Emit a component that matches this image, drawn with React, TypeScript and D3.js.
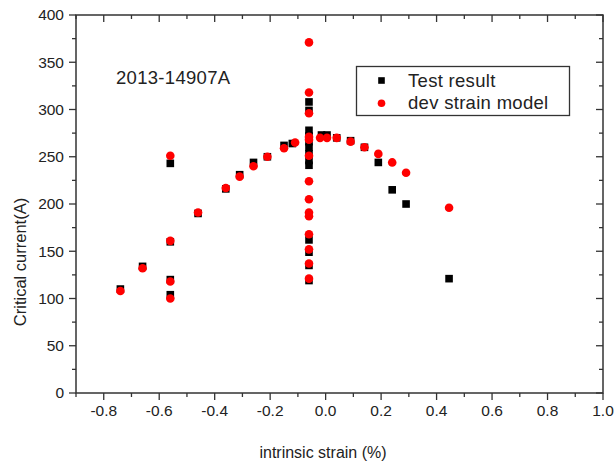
import React from "react";
import * as d3 from "d3";

// Test result (black squares)
const testStrain = [
  -0.74, -0.66, -0.56, -0.56, -0.56, -0.56, -0.46, -0.36, -0.31, -0.26, -0.21, -0.15, -0.12,
  -0.06, -0.06, -0.06, -0.06, -0.06, -0.06, -0.06, -0.06, -0.06, -0.06, -0.06, -0.06, -0.06,
  -0.015, 0.005, 0.04, 0.09, 0.14, 0.19, 0.24, 0.29, 0.445,
];
const testCurrent = [
  110, 134, 243, 160, 120, 104, 190, 216, 231, 244, 250, 262, 264,
  308, 299, 278, 272, 266, 260, 253, 246, 241, 162, 149, 135, 119,
  273, 273, 270, 267, 260, 244, 215, 200, 121,
];

// dev strain model (red circles)
const modelStrain = [
  -0.74, -0.66, -0.56, -0.56, -0.56, -0.56, -0.46, -0.36, -0.31, -0.26, -0.21, -0.15, -0.11,
  -0.06, -0.06, -0.06, -0.06, -0.06, -0.06, -0.06, -0.06, -0.06, -0.06, -0.06, -0.06, -0.06, -0.06,
  -0.02, 0.005, 0.04, 0.09, 0.14, 0.19, 0.24, 0.29, 0.445,
];
const modelCurrent = [
  108, 132, 251, 161, 118, 100, 191, 217, 229, 240, 250, 259, 265,
  371, 318, 296, 271, 268, 251, 224, 205, 191, 187, 168, 152, 137, 121,
  270, 270, 270, 266, 260, 253, 244, 233, 196,
];

const xMajor = [-0.8, -0.6, -0.4, -0.2, 0.0, 0.2, 0.4, 0.6, 0.8, 1.0];
const yMajor = [0, 50, 100, 150, 200, 250, 300, 350, 400];
const seriesNames = ["Test result", "dev strain model"];
const sampleName = "2013-14907A";

const W = 616;
const H = 468;
const font = "'Liberation Sans', Arial, sans-serif";
const axisColor = "#333";
const textColor = "#222";

export default function App() {
  const x = d3.scaleLinear().domain([-0.9, 1.0]).range([76, 603]);
  const y = d3.scaleLinear().domain([0, 400]).range([393, 15]);
  const [x0, x1] = x.range();
  const [y0, y1] = y.range();

  const xMinor = d3.range(-0.9, 1.0001, 0.1).map((v) => +v.toFixed(2));
  const yMinor = d3.range(0, 401, 25);

  const test = testStrain.map((s, i) => [s, testCurrent[i]]);
  const model = modelStrain.map((s, i) => [s, modelCurrent[i]]);

  const isMajorX = (v: number) => xMajor.some((m) => Math.abs(m - v) < 1e-6);
  const isMajorY = (v: number) => v % 50 === 0;

  return (
    <svg
      width={W}
      height={H}
      style={{ position: "absolute", left: 0, top: 0, background: "#fff" }}
      fontFamily={font}
    >
      {/* frame */}
      <rect x={x0} y={y1} width={x1 - x0} height={y0 - y1} fill="none" stroke={axisColor} strokeWidth={1.5} />

      {/* x ticks: bottom outward, top inward */}
      {xMinor.map((v) => {
        const len = isMajorX(v) ? 7 : 4;
        return (
          <g key={"xt" + v} stroke={axisColor} strokeWidth={1.3}>
            <line x1={x(v)} x2={x(v)} y1={y0} y2={y0 + len} />
            <line x1={x(v)} x2={x(v)} y1={y1} y2={y1 + len} />
          </g>
        );
      })}
      {xMajor.map((v) => (
        <text key={"xl" + v} x={x(v)} y={416} textAnchor="middle" fontSize={15.5} fill={textColor}>
          {d3.format(".1f")(v).replace("−", "-")}
        </text>
      ))}

      {/* y ticks: left outward, right inward */}
      {yMinor.map((v) => {
        const len = isMajorY(v) ? 7 : 4;
        return (
          <g key={"yt" + v} stroke={axisColor} strokeWidth={1.3}>
            <line x1={x0} x2={x0 - len} y1={y(v)} y2={y(v)} />
            <line x1={x1} x2={x1 - len} y1={y(v)} y2={y(v)} />
          </g>
        );
      })}
      {yMajor.map((v) => (
        <text key={"yl" + v} x={64} y={y(v)} dy="0.35em" textAnchor="end" fontSize={15.5} fill={textColor}>
          {v}
        </text>
      ))}

      {/* axis titles */}
      <text x={323} y={458} textAnchor="middle" fontSize={16} fill={textColor}>
        intrinsic strain (%)
      </text>
      <text transform="translate(26,262) rotate(-90)" textAnchor="middle" fontSize={16.5} fill={textColor}>
        Critical current(A)
      </text>

      {/* sample label */}
      <text x={116} y={83.5} fontSize={18.5} letterSpacing={0.3} fill={textColor}>
        {sampleName}
      </text>

      {/* data */}
      {test.map(([s, c], i) => (
        <rect key={"t" + i} x={x(s) - 3.8} y={y(c) - 3.8} width={7.6} height={7.6} fill="#000" />
      ))}
      {model.map(([s, c], i) => (
        <circle key={"m" + i} cx={x(s)} cy={y(c)} r={4.3} fill="#f00" />
      ))}

      {/* legend */}
      <rect x={356.5} y={66.5} width={213} height={49} fill="#fff" stroke={axisColor} strokeWidth={1.3} />
      <rect x={381.5 - 3.3} y={80.5 - 3.3} width={6.6} height={6.6} fill="#000" />
      <text x={408} y={86.5} fontSize={18.5} letterSpacing={0.3} fill={textColor}>
        {seriesNames[0]}
      </text>
      <circle cx={381.5} cy={103.3} r={3.8} fill="#f00" />
      <text x={408} y={109.3} fontSize={18.5} letterSpacing={0.3} fill={textColor}>
        {seriesNames[1]}
      </text>
    </svg>
  );
}
